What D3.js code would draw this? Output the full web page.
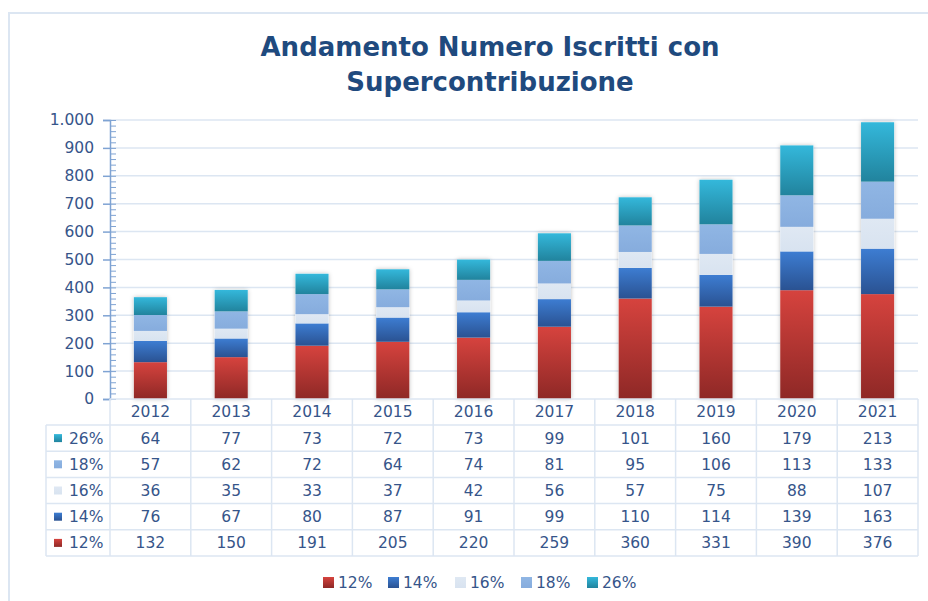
<!DOCTYPE html>
<html>
<head>
<meta charset="utf-8">
<script src="https://cdn.jsdelivr.net/npm/d3@7"></script>
<style>
  body { margin: 0; background: #fff; }
  svg { display: block; font-family: "DejaVu Sans", sans-serif; }
</style>
</head>
<body>
<div id="chart"></div>
<script>
// data
const years = ["2012", "2013", "2014", "2015", "2016", "2017", "2018", "2019", "2020", "2021"];
const seriesNames = ["12%", "14%", "16%", "18%", "26%"];
const v12 = [132, 150, 191, 205, 220, 259, 360, 331, 390, 376];
const v14 = [76, 67, 80, 87, 91, 99, 110, 114, 139, 163];
const v16 = [36, 35, 33, 37, 42, 56, 57, 75, 88, 107];
const v18 = [57, 62, 72, 64, 74, 81, 95, 106, 113, 133];
const v26 = [64, 77, 73, 72, 73, 99, 101, 160, 179, 213];
const yTicks = [0, 100, 200, 300, 400, 500, 600, 700, 800, 900, 1000];

const seriesValues = [v12, v14, v16, v18, v26];

// top / bottom colour of each series gradient
function getColors(index) {
    const colors = [
        ["#d6433e", "#8e2826"],
        ["#3d7dd2", "#2a5292"],
        ["#dfe8f3", "#d8e3f0"],
        ["#90b6e4", "#86acdd"],
        ["#34b8db", "#21839d"]
    ];
    return colors[index];
}

const W = 928, H = 601;
const textColor = "#36558a";
const lineColor = "#dce6f2";

const svg = d3.select("#chart")
    .append("svg")
    .attr("width", W)
    .attr("height", H);

const defs = svg.append("defs");
seriesNames.forEach((s, i) => {
    const g = defs.append("linearGradient")
        .attr("id", "grad" + i)
        .attr("x1", 0).attr("y1", 0).attr("x2", 0).attr("y2", 1);
    g.append("stop").attr("offset", "0%").attr("stop-color", getColors(i)[0]);
    g.append("stop").attr("offset", "100%").attr("stop-color", getColors(i)[1]);
});
const shadow = defs.append("filter").attr("id", "shadow")
    .attr("x", "-30%").attr("y", "-5%").attr("width", "160%").attr("height", "110%");
shadow.append("feDropShadow")
    .attr("dx", 0).attr("dy", 0).attr("stdDeviation", 2)
    .attr("flood-color", "#000").attr("flood-opacity", 0.25);

// outer chart border (left and top only visible)
svg.append("path")
    .attr("d", `M9,${H} L9,13 L${W},13`)
    .attr("fill", "none")
    .attr("stroke", lineColor)
    .attr("stroke-width", 2);

// title
const title = svg.append("text")
    .attr("text-anchor", "middle")
    .style("font-size", "26px")
    .style("font-weight", "bold")
    .style("fill", "#1f4a7e");
title.append("tspan").attr("x", 490).attr("y", 56).text("Andamento Numero Iscritti con");
title.append("tspan").attr("x", 490).attr("y", 91).text("Supercontribuzione");

// scales
const x = d3.scaleBand().domain(years).range([110, 918]).padding(0);
const y = d3.scaleLinear().domain([0, 1000]).range([399, 120]);
const locale = d3.formatLocale({ decimal: ",", thousands: ".", grouping: [3], currency: ["", ""] });
const fmt = locale.format(",d");

// gridlines
svg.append("g")
    .selectAll("line")
    .data(yTicks.slice(1))
    .join("line")
    .attr("x1", 110).attr("x2", 918)
    .attr("y1", d => y(d)).attr("y2", d => y(d))
    .attr("stroke", lineColor)
    .attr("stroke-width", 1.5);

// stacked bars
const stackData = years.map((yr, i) => {
    const row = { year: yr };
    seriesNames.forEach((s, j) => { row[s] = seriesValues[j][i]; });
    return row;
});
const stacked = d3.stack().keys(seriesNames)(stackData);
const barW = x.bandwidth() * 0.41;

const bars = svg.append("g");
years.forEach((yr, i) => {
    const top = y(stacked[stacked.length - 1][i][1]);
    bars.append("rect")
        .attr("x", x(yr) + (x.bandwidth() - barW) / 2)
        .attr("y", top)
        .attr("width", barW)
        .attr("height", y(0) - top)
        .attr("fill", "#fff")
        .attr("filter", "url(#shadow)");
});
stacked.forEach((layer, j) => {
    bars.append("g")
        .selectAll("rect")
        .data(layer)
        .join("rect")
        .attr("x", d => x(d.data.year) + (x.bandwidth() - barW) / 2)
        .attr("y", d => y(d[1]))
        .attr("width", barW)
        .attr("height", d => y(d[0]) - y(d[1]))
        .attr("fill", `url(#grad${j})`);
});

// y axis, major ticks on the left and minor ticks every 20 on the right
const yAxis = svg.append("g")
    .attr("transform", "translate(110,0)")
    .call(d3.axisLeft(y).tickValues(yTicks).tickSize(7).tickPadding(9).tickFormat(fmt));
yAxis.select(".domain").attr("stroke", "#7fa3d3").attr("stroke-width", 1.5);
yAxis.selectAll(".tick line").attr("stroke", "#7fa3d3").attr("stroke-width", 1.5);
yAxis.selectAll(".tick text")
    .style("font-size", "15.5px")
    .style("fill", textColor)
    .style("font-family", "DejaVu Sans, sans-serif");

const minor = svg.append("g")
    .attr("transform", "translate(110,0)")
    .call(d3.axisRight(y).tickValues(d3.range(0, 1001, 20)).tickSize(6).tickFormat(""));
minor.select(".domain").remove();
minor.selectAll(".tick line").attr("stroke", "#7fa3d3").attr("stroke-width", 1);

// data table
const rowOrder = [4, 3, 2, 1, 0];
const rowH = 26.2;
const tableTop = 425;
const table = svg.append("g");

// horizontal lines
table.append("line")
    .attr("x1", 110).attr("x2", 918).attr("y1", 399).attr("y2", 399)
    .attr("stroke", lineColor).attr("stroke-width", 1.5);
d3.range(rowOrder.length + 1).forEach(r => {
    table.append("line")
        .attr("x1", 46).attr("x2", 918)
        .attr("y1", tableTop + r * rowH).attr("y2", tableTop + r * rowH)
        .attr("stroke", lineColor).attr("stroke-width", 1.5);
});
// vertical lines
table.append("line")
    .attr("x1", 46).attr("x2", 46)
    .attr("y1", tableTop).attr("y2", tableTop + rowOrder.length * rowH)
    .attr("stroke", lineColor).attr("stroke-width", 1.5);
years.concat(["end"]).forEach((yr, i) => {
    const xx = i < years.length ? x(yr) : 918;
    table.append("line")
        .attr("x1", xx).attr("x2", xx)
        .attr("y1", 399).attr("y2", tableTop + rowOrder.length * rowH)
        .attr("stroke", lineColor).attr("stroke-width", 1.5);
});

// year header
table.selectAll(".yr")
    .data(years)
    .join("text")
    .attr("x", d => x(d) + x.bandwidth() / 2)
    .attr("y", 417)
    .attr("text-anchor", "middle")
    .style("font-size", "15.5px")
    .style("fill", textColor)
    .text(d => d);

rowOrder.forEach((j, r) => {
    const cy = tableTop + r * rowH + rowH / 2;
    table.append("rect")
        .attr("x", 54).attr("y", cy - 4)
        .attr("width", 8).attr("height", 8)
        .attr("fill", `url(#grad${j})`);
    table.append("text")
        .attr("x", 69).attr("y", cy + 5.5)
        .style("font-size", "15.5px")
        .style("fill", textColor)
        .text(seriesNames[j]);
    table.append("g")
        .selectAll("text")
        .data(seriesValues[j])
        .join("text")
        .attr("x", (d, i) => x(years[i]) + x.bandwidth() / 2)
        .attr("y", cy + 5.5)
        .attr("text-anchor", "middle")
        .style("font-size", "15.5px")
        .style("fill", textColor)
        .text(d => d);
});

// legend
const legendX = [323, 388, 455, 521, 587];
const legend = svg.append("g");
seriesNames.forEach((s, j) => {
    legend.append("rect")
        .attr("x", legendX[j]).attr("y", 577)
        .attr("width", 11).attr("height", 11)
        .attr("fill", `url(#grad${j})`);
    legend.append("text")
        .attr("x", legendX[j] + 15).attr("y", 588)
        .style("font-size", "15.5px")
        .style("fill", textColor)
        .text(s);
});
</script>
</body>
</html>
